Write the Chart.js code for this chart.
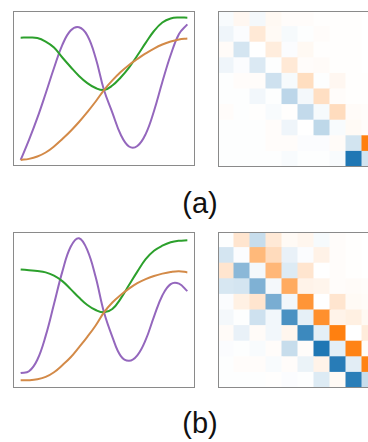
<!DOCTYPE html>
<html>
<head>
<meta charset="utf-8">
<script src="https://cdn.jsdelivr.net/npm/chart.js@4.4.0/dist/chart.umd.min.js"></script>
<style>
  html, body { margin: 0; padding: 0; background: #fff; width: 368px; height: 442px; overflow: hidden; position: relative; }
  canvas { position: absolute; }
  .lbl { position: absolute; width: 100px; text-align: center; font-family: "Liberation Sans", Arial, sans-serif; font-size: 29px; line-height: 29px; color: #111; }
</style>
</head>
<body>
<canvas id="lineA" width="192" height="165" style="left:8px;top:6px"></canvas>
<canvas id="heatA" width="170" height="166" style="left:213px;top:6px"></canvas>
<div class="lbl" style="left:150px;top:189px">(a)</div>
<canvas id="lineB" width="192" height="166" style="left:8px;top:227px"></canvas>
<canvas id="heatB" width="170" height="166" style="left:213px;top:227px"></canvas>
<div class="lbl" style="left:150px;top:409px">(b)</div>

<script>
// shared x positions of the curves
const xs = [0, 0.5, 1, 1.5, 2, 2.5, 3, 3.5, 4, 4.5, 5, 5.5, 6, 6.5, 7, 7.5, 8, 8.5, 9, 9.5, 10];

// panel (a) curves
const greenA  = [0.828, 0.829, 0.826, 0.803, 0.765, 0.700, 0.639, 0.581, 0.535, 0.503, 0.490, 0.519, 0.571, 0.635, 0.713, 0.794, 0.871, 0.926, 0.952, 0.958, 0.957];
const orangeA = [0.039, 0.046, 0.061, 0.087, 0.126, 0.174, 0.226, 0.284, 0.348, 0.416, 0.490, 0.552, 0.606, 0.652, 0.690, 0.726, 0.758, 0.784, 0.803, 0.816, 0.823];
const purpleA = [0.039, 0.168, 0.310, 0.468, 0.632, 0.781, 0.874, 0.895, 0.842, 0.697, 0.490, 0.345, 0.203, 0.126, 0.129, 0.206, 0.355, 0.542, 0.716, 0.852, 0.914];

// panel (b) curves
const greenB  = [0.760, 0.755, 0.750, 0.741, 0.720, 0.685, 0.634, 0.580, 0.532, 0.500, 0.485, 0.506, 0.573, 0.660, 0.746, 0.826, 0.880, 0.912, 0.934, 0.944, 0.947];
const orangeB = [0.049, 0.050, 0.056, 0.071, 0.101, 0.146, 0.197, 0.261, 0.328, 0.401, 0.485, 0.548, 0.596, 0.637, 0.672, 0.698, 0.718, 0.733, 0.744, 0.749, 0.741];
const purpleB = [0.096, 0.107, 0.181, 0.334, 0.538, 0.746, 0.905, 0.960, 0.884, 0.711, 0.485, 0.328, 0.206, 0.174, 0.209, 0.308, 0.458, 0.593, 0.666, 0.669, 0.621];

// heatmap columns and cell values (rows top to bottom, -1 blue .. +1 orange)
const heatCols = ['0', '1', '2', '3', '4', '5', '6', '7', '8', '9'];
const heatA = [
  [-0.03, 0.06, -0.05, 0.05, 0.02, 0.02, 0.01, 0.01, 0.01, 0.00],
  [-0.07, -0.02, 0.17, 0.04, -0.04, -0.01, 0.02, 0.01, 0.01, 0.00],
  [0.03, -0.19, 0.00, 0.14, -0.02, 0.05, 0.01, 0.01, 0.01, 0.00],
  [-0.07, -0.02, -0.16, -0.01, 0.17, 0.02, 0.03, 0.01, 0.01, 0.00],
  [-0.01, 0.02, 0.02, -0.22, -0.04, 0.26, -0.01, 0.06, 0.01, 0.01],
  [-0.01, -0.01, -0.06, -0.01, -0.30, -0.05, 0.25, 0.02, 0.01, 0.01],
  [0.02, -0.01, 0.01, -0.03, 0.01, -0.27, -0.04, 0.27, 0.03, 0.02],
  [-0.01, -0.01, -0.01, 0.02, -0.07, 0.00, -0.29, -0.03, 0.04, 0.02],
  [-0.01, -0.01, -0.01, 0.02, 0.02, -0.02, -0.02, 0.03, -0.20, 1.00],
  [-0.01, -0.01, -0.01, -0.01, -0.03, -0.01, -0.01, -0.03, -1.00, -0.20],
];
const heatB = [
  [-0.01, 0.20, -0.25, 0.17, 0.04, 0.07, -0.04, 0.02, 0.01, 0.00],
  [-0.19, -0.02, 0.55, 0.28, -0.10, -0.02, 0.10, 0.02, 0.01, 0.00],
  [0.20, -0.52, -0.05, 0.56, -0.15, 0.20, 0.00, 0.02, 0.01, 0.00],
  [-0.18, -0.19, -0.57, -0.05, 0.66, 0.09, 0.08, 0.02, 0.03, 0.02],
  [-0.02, 0.11, 0.20, -0.60, -0.06, 0.83, 0.00, 0.20, 0.04, 0.03],
  [-0.05, -0.01, -0.22, -0.06, -0.81, -0.11, 0.87, 0.09, 0.12, 0.05],
  [0.03, -0.10, 0.03, -0.06, 0.07, -0.87, -0.12, 0.99, 0.00, 0.15],
  [-0.02, -0.01, -0.03, 0.02, -0.25, 0.02, -1.00, -0.12, 0.97, 0.02],
  [-0.01, 0.02, 0.02, -0.03, 0.02, -0.09, 0.09, -0.96, -0.13, 0.97],
  [-0.01, -0.01, -0.01, 0.01, -0.02, -0.01, -0.15, 0.04, -0.95, -0.25],
];

const GREEN = '#2ca02c', ORANGE = '#d38a48', PURPLE = '#9467bd';
const FRAME = '#8a8a8a';

const framePlugin = {
  id: 'frame',
  afterDraw(chart) {
    const a = chart.chartArea, c = chart.ctx;
    c.save();
    c.strokeStyle = FRAME;
    c.lineWidth = 1;
    c.strokeRect(Math.round(a.left) + 0.5, Math.round(a.top) + 0.5, Math.round(a.right - a.left) - 1, Math.round(a.bottom - a.top) - 1);
    c.restore();
  }
};

function pts(ys) { return xs.map((x, i) => ({ x, y: ys[i] })); }

function lineChart(id, green, orange, purple) {
  const mk = (ys, col) => ({ data: pts(ys), borderColor: col, borderWidth: 2, pointRadius: 0, tension: 0.4, fill: false, clip: false });
  new Chart(document.getElementById(id), {
    type: 'line',
    data: { datasets: [mk(orange, ORANGE), mk(green, GREEN), mk(purple, PURPLE)] },
    options: {
      responsive: false, animation: false, events: [],
      layout: { padding: { left: 5, right: 5, top: 5, bottom: 5 } },
      plugins: { legend: { display: false }, tooltip: { enabled: false } },
      scales: {
        x: { type: 'linear', min: -0.46, max: 10.46, display: false },
        y: { min: 0, max: 1, display: false },
      },
    },
    plugins: [framePlugin],
  });
}

function cellColour(v) {
  const end = v >= 0 ? [255, 127, 14] : [31, 119, 180];
  const t = Math.min(1, Math.abs(v));
  const ch = end.map(e => Math.round(255 + (e - 255) * t));
  return `rgb(${ch[0]},${ch[1]},${ch[2]})`;
}

function heatChart(id, heat) {
  // bottom row first so the stack grows upward
  const datasets = heat.slice().reverse().map(row => ({
    data: row.map(() => 1),
    backgroundColor: row.map(cellColour),
    borderWidth: 0, inflateAmount: 0.5,
    barPercentage: 1, categoryPercentage: 1,
  }));
  new Chart(document.getElementById(id), {
    type: 'bar',
    data: { labels: heatCols, datasets },
    options: {
      responsive: false, animation: false, events: [],
      layout: { padding: { left: 5, right: 5, top: 5, bottom: 5 } },
      plugins: { legend: { display: false }, tooltip: { enabled: false } },
      scales: {
        x: { stacked: true, display: false },
        y: { stacked: true, min: 0, max: 10, display: false },
      },
    },
    plugins: [framePlugin],
  });
}

lineChart('lineA', greenA, orangeA, purpleA);
heatChart('heatA', heatA);
lineChart('lineB', greenB, orangeB, purpleB);
heatChart('heatB', heatB);
</script>
</body>
</html>
